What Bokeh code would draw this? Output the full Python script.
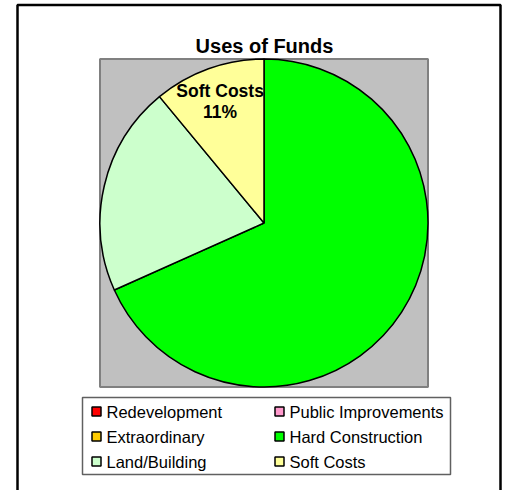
import math
from bokeh.plotting import figure
from bokeh.models import Range1d, ColumnDataSource
from bokeh.embed import file_html
from bokeh.resources import INLINE
from bokeh.core.properties import value

# ---------------- data ----------------
title_text = "Uses of Funds"
categories = ["Redevelopment", "Public Improvements", "Extraordinary",
              "Hard Construction", "Land/Building", "Soft Costs"]
shares = [0.0, 0.0, 0.0, 68.3, 20.7, 11.0]
colors = ["#FF0000", "#FF99CC", "#FFCC00", "#00FF00", "#CCFFCC", "#FFFF99"]
labelled = ["Soft Costs"]

# ---------------- layout ----------------
W, H = 513, 490
FONT = value("Liberation Sans")


def X(px):
    return px


def Y(py):
    return H - py


p = figure(width=W, height=H, x_range=Range1d(0, W), y_range=Range1d(0, H),
           output_backend="svg", toolbar_location=None,
           x_axis_location=None, y_axis_location=None, min_border=0)
p.grid.visible = False
p.outline_line_color = None
p.background_fill_color = "white"
p.border_fill_color = "white"

# chart area frame
p.quad(left=[X(17)], right=[X(500)], top=[Y(4.5)], bottom=[Y(560)],
       fill_color=None, line_color="black", line_width=2.5)

# plot area
p.quad(left=[X(99.5)], right=[X(427.5)], top=[Y(58.5)], bottom=[Y(386.5)],
       fill_color="#C0C0C0", line_color="#808080", line_width=2)

# pie
cx, cy, R = X(263.5), Y(222.5), 164
total = sum(shares)
starts, ends, fills = [], [], []
cum = 0.0
mids = {}
for cat, v, c in zip(categories, shares, colors):
    a0 = math.pi / 2 - 2 * math.pi * cum / total
    cum += v
    a1 = math.pi / 2 - 2 * math.pi * cum / total
    mids[cat] = (a0 + a1) / 2
    if v > 0:
        starts.append(a0)
        ends.append(a1)
        fills.append(c)
src = ColumnDataSource(dict(x=[cx] * len(starts), y=[cy] * len(starts),
                            s=starts, e=ends, c=fills))
p.wedge(x="x", y="y", radius=R, start_angle="s", end_angle="e",
        direction="clock", fill_color="c", line_color="black",
        line_width=1.5, source=src)

# data labels
for cat, v in zip(categories, shares):
    if cat in labelled:
        m = mids[cat]
        lx = cx + 0.79 * R * math.cos(m)
        ly = cy + 0.79 * R * math.sin(m)
        pct = f"{round(100 * v / total)}%"
        p.text(x=[lx], y=[ly + 10.5], text=[cat], text_align="center",
               text_baseline="middle", text_font=FONT, text_font_style="bold",
               text_font_size="17.5px", text_color="black")
        p.text(x=[lx], y=[ly - 10.5], text=[pct], text_align="center",
               text_baseline="middle", text_font=FONT, text_font_style="bold",
               text_font_size="17.5px", text_color="black")

# title
p.text(x=[X(264)], y=[Y(45)], text=[title_text], text_align="center",
       text_baseline="alphabetic", text_font=FONT, text_font_style="bold",
       text_font_size="20px", text_color="black")

# legend
p.quad(left=[X(82)], right=[X(450)], top=[Y(397)], bottom=[Y(474)],
       fill_color="white", line_color="#606060", line_width=1.5)
mx, my, tx = [], [], []
for i, cat in enumerate(categories):
    col, row = i % 2, i // 2
    mx.append(X(96 + col * 183))
    my.append(Y(411 + row * 25))
    tx.append(X(106 + col * 183))
p.rect(x=mx, y=my, width=9, height=9, fill_color=colors,
       line_color="black", line_width=1.5)
p.text(x=tx, y=my, text=categories, text_align="left", text_baseline="middle",
       text_font=FONT, text_font_size="16.5px", text_color="black")

open("out.html", "w").write(file_html(p, INLINE))
